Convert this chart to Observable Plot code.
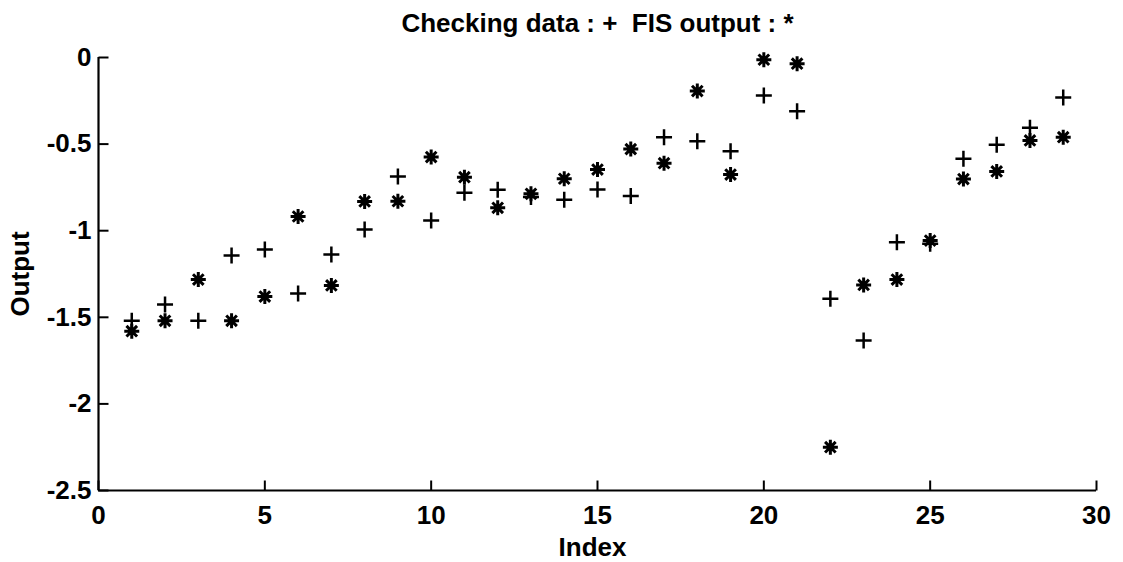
<!DOCTYPE html>
<html>
<head>
<meta charset="utf-8">
<script src="https://cdn.jsdelivr.net/npm/d3@7"></script>
<script src="https://cdn.jsdelivr.net/npm/@observablehq/plot@0.6"></script>
<style>
  html, body { margin: 0; padding: 0; background: #fff; }
</style>
</head>
<body>
<div id="chart"></div>
<script>
const index = [1,2,3,4,5,6,7,8,9,10,11,12,13,14,15,16,17,18,19,20,21,22,23,24,25,26,27,28,29];
const checkingData = [-1.52,-1.426,-1.52,-1.143,-1.109,-1.363,-1.137,-0.993,-0.687,-0.941,-0.781,-0.764,-0.806,-0.822,-0.762,-0.799,-0.46,-0.483,-0.541,-0.219,-0.31,-1.393,-1.634,-1.066,-1.076,-0.585,-0.504,-0.406,-0.231];
const fisOutput = [-1.58,-1.52,-1.282,-1.52,-1.38,-0.918,-1.316,-0.831,-0.83,-0.575,-0.691,-0.868,-0.787,-0.70,-0.647,-0.529,-0.61,-0.194,-0.676,-0.013,-0.036,-2.25,-1.313,-1.282,-1.057,-0.702,-0.658,-0.479,-0.46];
const xTicks = [0,5,10,15,20,25,30];
const yTicks = [0,-0.5,-1,-1.5,-2,-2.5];
const titleText = "Checking data : +\u00a0\u00a0FIS output : *";
const xLabel = "Index";
const yLabel = "Output";

const plusSymbol = {
  draw(ctx, size) {
    const h = Math.sqrt(size / Math.PI);
    ctx.moveTo(-h, 0); ctx.lineTo(h, 0);
    ctx.moveTo(0, -h); ctx.lineTo(0, h);
  }
};
const starSymbol = {
  draw(ctx, size) {
    const h = Math.sqrt(size / Math.PI);
    const c = h * Math.SQRT1_2;
    ctx.moveTo(-h, 0); ctx.lineTo(h, 0);
    ctx.moveTo(0, -h); ctx.lineTo(0, h);
    ctx.moveTo(-c, -c); ctx.lineTo(c, c);
    ctx.moveTo(-c, c); ctx.lineTo(c, -c);
  }
};
const tickUp = { draw(ctx) { ctx.moveTo(0, 0); ctx.lineTo(0, -10); } };
const tickRight = { draw(ctx) { ctx.moveTo(0, 0); ctx.lineTo(10, 0); } };

const chart = Plot.plot({
  width: 1123,
  height: 562,
  marginTop: 57,
  marginBottom: 72,
  marginLeft: 98,
  marginRight: 27,
  style: { fontFamily: "'Liberation Sans', Arial, Helvetica, sans-serif", fontWeight: "bold", fontSize: "26px", color: "#000", background: "#fff" },
  x: { domain: [xTicks[0], xTicks[xTicks.length - 1]] },
  y: { domain: [yTicks[yTicks.length - 1], yTicks[0]] },
  marks: [
    Plot.axisX({ ticks: xTicks, tickSize: 0, tickPadding: 15, tickFormat: d => String(d), label: null, fontSize: 26 }),
    Plot.axisY({ ticks: yTicks, tickSize: 0, tickPadding: 7, tickFormat: d => String(d), label: null, fontSize: 26 }),
    Plot.ruleX([xTicks[0]], { stroke: "#000", strokeWidth: 2.2 }),
    Plot.ruleY([yTicks[yTicks.length - 1]], { stroke: "#000", strokeWidth: 2.2 }),
    Plot.dot(xTicks, { x: d => d, frameAnchor: "bottom", symbol: tickUp, stroke: "#000", strokeWidth: 2, fill: "none" }),
    Plot.dot(yTicks, { y: d => d, frameAnchor: "left", symbol: tickRight, stroke: "#000", strokeWidth: 2, fill: "none" }),
    Plot.dot(index, { x: d => d, y: (d, i) => checkingData[i], symbol: plusSymbol, r: 8, stroke: "#000", strokeWidth: 2.5, fill: "none" }),
    Plot.dot(index, { x: d => d, y: (d, i) => fisOutput[i], symbol: starSymbol, r: 7.5, stroke: "#000", strokeWidth: 3, strokeLinecap: "butt", fill: "none" }),
    Plot.text([titleText], { frameAnchor: "top", dy: -34, lineAnchor: "middle", fontSize: 26, fill: "#000" }),
    Plot.text([xLabel], { frameAnchor: "bottom", dy: 57, dx: -5, lineAnchor: "middle", fontSize: 26, fill: "#000" }),
    Plot.text([yLabel], { frameAnchor: "left", dx: -78, rotate: -90, lineAnchor: "middle", textAnchor: "middle", fontSize: 26, fill: "#000" })
  ]
});
document.getElementById("chart").appendChild(chart);
</script>
</body>
</html>
